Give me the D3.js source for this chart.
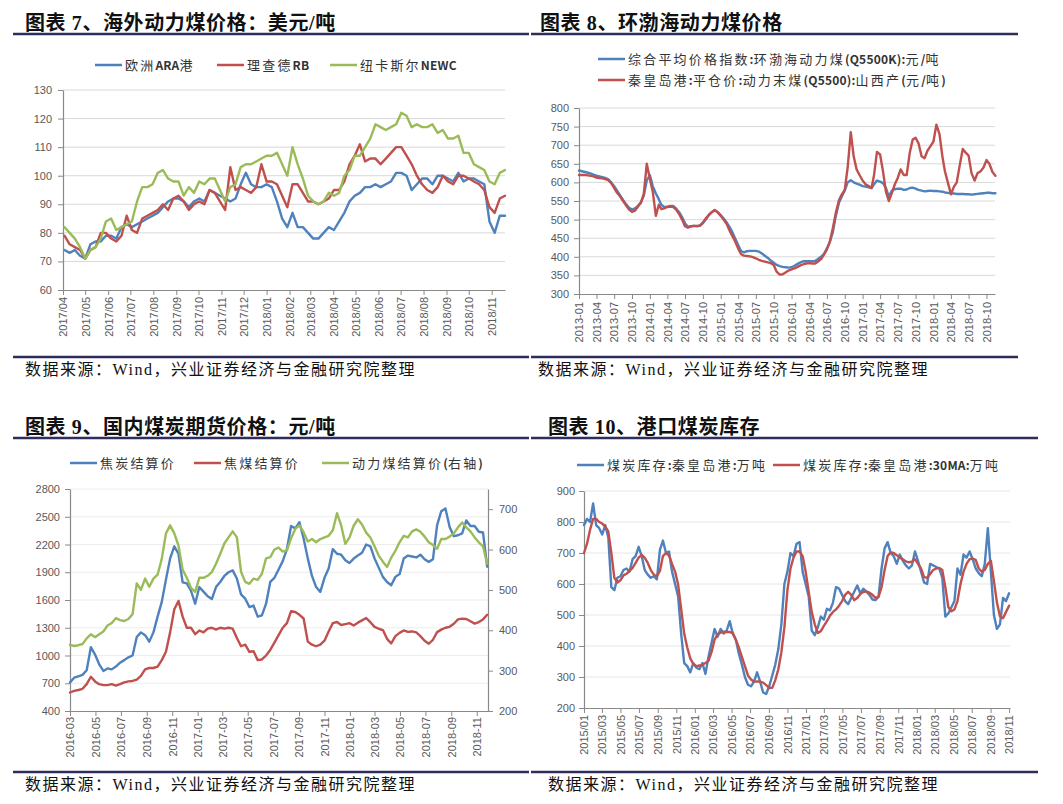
<!DOCTYPE html>
<html><head><meta charset="utf-8">
<script src="https://cdn.jsdelivr.net/npm/d3@7"></script>
<style>
body{margin:0;background:#fff;}
svg{display:block;}
</style></head>
<body><svg id="c" width="1063" height="804"></svg>
<script>
// ---------------- DATA ----------------
// Panel 1: 海外动力煤价格 (weekly samples from 2017-04-03)
const p1Start = "2017-04-03", p1StepDays = 7;
const p1Names = ["欧洲ARA港", "理查德RB", "纽卡斯尔NEWC"];
const p1ARA = [74,73,74,72,71,76,77,77,79,79,78,82,83,82,83,84,85,86,87,89,
  91,92,92,91,89,91,92,91,95,94,93,92,91,92,97,101,97,96,96,97,
  96,91,85,82,87,82,82,80,78,78,80,82,81,84,87,91,93,94,96,96,
  97,96,97,98,101,101,100,95,97,99,99,97,100,100,99,98,101,98,99,99,
  98,97,84,80,86,86];
const p1RB = [79,76,75,74,71,74,75,80,80,78,77,79,86,81,80,85,86,87,88,90,
  88,92,93,91,88,90,91,90,95,94,91,88,103,95,96,95,94,96,104,98,
  98,97,93,89,97,97,94,91,91,90,91,92,95,95,98,104,107,111,105,106,
  106,104,106,108,110,110,107,104,100,97,95,94,96,100,98,97,100,100,99,98,
  97,95,89,87,92,93];
const p1NEWC = [82,80,78,75,71,74,75,78,84,85,81,82,83,84,91,96,96,97,101,102,
  99,98,98,93,96,94,98,97,99,99,95,91,96,97,103,104,104,105,106,107,
  107,108,104,100,110,104,99,93,91,90,91,94,93,94,100,102,107,107,110,113,
  118,117,116,117,118,122,121,117,118,117,117,118,115,116,113,113,114,108,108,104,
  103,102,98,97,101,102];
const p1YTicks = [60,70,80,90,100,110,120,130];
const p1XTicks = ["2017/04","2017/05","2017/06","2017/07","2017/08","2017/09","2017/10","2017/11","2017/12",
  "2018/01","2018/02","2018/03","2018/04","2018/05","2018/06","2018/07","2018/08","2018/09","2018/10","2018/11"];

// Panel 2: 环渤海动力煤价格 (1st and 16th of each month, 2013-01 .. 2018-11)
const p2Names = ["综合平均价格指数:环渤海动力煤(Q5500K):元/吨", "秦皇岛港:平仓价:动力末煤(Q5500):山西产(元/吨)"];
const p2Index = [632,630,628,626,624,621,618,616,614,612,
  608,600,590,578,565,553,541,532,527,530,
  537,547,565,605,620,590,570,555,540,534,
  535,537,537,530,520,507,490,481,482,483,
  483,484,490,500,512,520,525,520,512,503,
  492,480,467,450,432,415,412,415,416,416,
  416,414,409,403,397,390,384,378,375,373,
  372,371,372,376,381,385,388,388,388,388,
  389,394,400,408,422,440,467,510,545,562,
  578,600,606,600,597,594,590,589,587,585,
  595,605,602,598,585,562,578,582,583,583,
  580,581,585,586,583,580,578,576,577,578,
  577,577,576,575,573,572,571,570,569,569,
  569,568,568,567,568,569,570,571,572,572,
  571,571];
const p2QHD = [620,620,620,619,618,616,613,612,611,609,
  606,598,585,572,562,550,538,527,521,524,
  535,545,570,650,610,575,510,540,528,530,
  534,535,534,527,515,500,482,478,482,483,
  482,484,492,503,513,520,526,520,510,500,
  488,470,457,442,422,407,403,402,401,399,
  396,392,389,387,385,383,378,360,352,353,
  358,363,366,369,373,377,380,382,383,382,
  382,387,394,406,420,440,478,518,552,568,
  580,640,735,670,635,620,605,595,590,585,
  620,682,675,630,575,550,572,595,612,635,
  620,620,680,715,720,705,670,665,685,697,
  710,755,730,670,630,600,568,588,600,645,
  690,680,672,625,605,625,630,640,660,650,
  628,618];
const p2YTicks = [300,350,400,450,500,550,600,650,700,750,800];
const p2XTicks = ["2013-01","2013-04","2013-07","2013-10","2014-01","2014-04","2014-07","2014-10",
  "2015-01","2015-04","2015-07","2015-10","2016-01","2016-04","2016-07","2016-10",
  "2017-01","2017-04","2017-07","2017-10","2018-01","2018-04","2018-07","2018-10"];

// Panel 3: 国内煤炭期货价格 (every 10 days from 2016-03-01)
const p3Start = "2016-03-01", p3StepDays = 10;
const p3Names = ["焦炭结算价", "焦煤结算价", "动力煤结算价(右轴)"];
const p3Coke = [710,760,775,790,840,1090,1010,905,833,860,
  850,880,922,950,980,1000,1200,1250,1220,1150,
  1250,1420,1580,1820,2050,2180,2100,1790,1780,1700,
  1560,1740,1690,1640,1610,1740,1795,1860,1900,1920,
  1832,1660,1614,1524,1540,1420,1434,1560,1795,1840,
  1930,2020,2150,2400,2374,2440,2265,2050,1860,1740,
  1687,1840,1940,2150,2100,2090,2030,2000,2048,2080,
  2110,2200,2180,2050,1950,1850,1795,1760,1850,1880,
  2048,2080,2070,2060,2090,2040,2012,2040,2410,2560,
  2590,2390,2290,2300,2320,2460,2400,2400,2338,2330,
  1960];
const p3CokingCoal = [600,617,627,640,690,770,720,690,680,680,
  690,675,690,710,720,725,740,780,850,865,
  865,880,950,1040,1250,1500,1590,1420,1300,1300,
  1230,1270,1250,1290,1300,1280,1300,1290,1300,1290,
  1190,1100,1117,1040,1046,950,957,1000,1060,1140,
  1220,1300,1350,1480,1470,1440,1400,1150,1117,1100,
  1117,1160,1260,1350,1362,1330,1340,1350,1325,1355,
  1380,1405,1360,1310,1289,1275,1180,1130,1210,1245,
  1271,1255,1260,1250,1210,1160,1127,1170,1253,1280,
  1300,1310,1343,1390,1398,1395,1370,1345,1362,1390,
  1440];
const p3Thermal = [364,361,363,366,380,390,383,390,397,412,
  418,430,425,423,428,440,516,500,528,508,
  528,538,577,640,660,640,610,550,530,505,
  495,530,530,535,544,565,589,615,630,645,
  630,545,520,515,528,525,540,578,581,600,
  605,595,598,628,651,660,643,620,626,618,
  626,630,634,648,690,660,614,630,659,675,
  662,642,630,608,585,570,557,580,597,618,
  634,630,645,650,644,632,618,611,602,626,
  626,632,640,655,667,655,645,630,618,608,
  565];
const p3YTicks = [400,700,1000,1300,1600,1900,2200,2500,2800];
const p3Y2Ticks = [200,300,400,500,600,700];
const p3XTicks = ["2016-03","2016-05","2016-07","2016-09","2016-11","2017-01","2017-03","2017-05","2017-07",
  "2017-09","2017-11","2018-01","2018-03","2018-05","2018-07","2018-09","2018-11"];

// Panel 4: 港口煤炭库存 (every 10 days from 2015-01-01)
const p4Start = "2015-01-01", p4StepDays = 10;
const p4Names = ["煤炭库存:秦皇岛港:万吨", "煤炭库存:秦皇岛港:30MA:万吨"];
const p4Stock = [790,810,800,860,790,780,760,790,750,590,
  580,620,625,645,650,640,680,690,720,690,
  645,630,620,625,615,710,740,700,705,640,
  600,560,440,345,335,315,345,330,325,345,
  310,365,410,455,430,455,440,450,480,440,
  420,375,340,300,275,270,285,315,285,250,
  245,270,305,340,390,470,600,640,700,690,
  730,735,640,600,560,450,435,460,495,485,
  520,515,540,590,585,565,545,535,555,575,
  595,570,585,575,565,550,548,560,650,715,
  735,700,690,665,695,675,660,650,660,705,
  675,640,605,600,665,660,655,650,620,495,
  505,525,545,650,630,695,685,705,680,650,
  635,625,665,780,640,500,455,470,555,545,
  570];
const p4MA30 = [700,730,775,810,810,800,795,785,770,700,
  620,605,612,628,633,642,652,668,685,694,
  684,668,645,630,625,642,690,700,692,665,
  640,598,520,440,395,360,342,335,337,340,
  345,352,380,420,438,443,446,445,445,442,
  420,395,365,335,305,292,285,286,285,282,
  274,265,265,290,325,380,460,580,650,685,
  705,705,690,640,575,510,470,442,448,465,
  480,498,510,518,530,545,565,575,565,548,
  555,568,574,576,572,565,555,558,590,645,
  690,702,700,693,685,680,673,670,672,680,
  665,650,622,620,632,645,650,652,645,590,
  525,512,518,545,600,640,665,680,682,678,
  650,640,645,665,675,610,540,495,490,510,
  530];
const p4YTicks = [200,300,400,500,600,700,800,900];
const p4XTicks = ["2015/01","2015/03","2015/05","2015/07","2015/09","2015/11","2016/01","2016/03","2016/05",
  "2016/07","2016/09","2016/11","2017/01","2017/03","2017/05","2017/07","2017/09","2017/11",
  "2018/01","2018/03","2018/05","2018/07","2018/09","2018/11"];

const titles = ["图表 7、海外动力煤价格：美元/吨", "图表 8、环渤海动力煤价格", "图表 9、国内煤炭期货价格：元/吨", "图表 10、港口煤炭库存"];
const sourceText = "数据来源：Wind，兴业证券经济与金融研究院整理";

// ---------------- HELPERS ----------------
const BLUE = "#4F81BD", RED = "#C0504D", GREEN = "#9BBB59", NAVY = "#2E2D5C";
const AXIS = "#898989", LABEL = "#595959";
const parseD = d3.timeParse("%Y-%m-%d");
const svg = d3.select("#c");

function stepDates(start, step, n) {
  const s = parseD(start);
  return d3.range(n).map(i => d3.timeDay.offset(s, i * step));
}
function semiMonthDates(startYear, startMonth, n) {
  const out = [];
  let y = startYear, m = startMonth;
  while (out.length < n) {
    out.push(new Date(y, m - 1, 1));
    if (out.length < n) out.push(new Date(y, m - 1, 16));
    m++; if (m > 12) { m = 1; y++; }
  }
  return out;
}
function tickDate(lbl) {
  const p = lbl.split(/[\/-]/);
  return new Date(+p[0], +p[1] - 1, 1);
}
function zip(dates, vals) { return vals.map((v, i) => ({ d: dates[i], v })); }

function frame(o) {
  svg.append("text").attr("x", o.titleX).attr("y", o.titleY)
    .attr("font-family", "'Liberation Serif','Noto Sans CJK SC'")
    .attr("font-weight", "bold").attr("font-size", 20).attr("letter-spacing", 0.6).attr("fill", "#111")
    .text(o.title);
  svg.append("line").attr("x1", o.lineX0).attr("x2", o.lineX1)
    .attr("y1", o.titleLineY).attr("y2", o.titleLineY)
    .attr("stroke", NAVY).attr("stroke-width", 2.5);
  svg.append("line").attr("x1", o.lineX0).attr("x2", o.lineX1)
    .attr("y1", o.srcLineY).attr("y2", o.srcLineY)
    .attr("stroke", NAVY).attr("stroke-width", 2.5);
  svg.append("text").attr("x", o.srcX).attr("y", o.srcY)
    .attr("font-family", "'Liberation Serif','Noto Sans CJK SC'")
    .attr("font-size", 16).attr("letter-spacing", 1.5).attr("fill", "#111")
    .text(sourceText);
}

const CJK = /[\u3000-\u303f\u4e00-\u9fff\uff00-\uffef]/;
function legend(items) {
  items.forEach(it => {
    svg.append("line").attr("x1", it.x).attr("x2", it.x + 27).attr("y1", it.y).attr("y2", it.y)
      .attr("stroke", it.color).attr("stroke-width", 2.5);
    const t = svg.append("text").attr("x", it.x + 30).attr("y", it.y).attr("dy", "0.36em")
      .attr("font-family", "'Noto Sans CJK SC'").attr("font-size", 13).attr("fill", "#333");
    // split into CJK / Latin runs
    const runs = [];
    for (const ch of it.label) {
      const c = CJK.test(ch);
      if (runs.length && runs[runs.length - 1].c === c) runs[runs.length - 1].s += ch;
      else runs.push({ c, s: ch });
    }
    runs.forEach(r => {
      t.append("tspan").attr("letter-spacing", r.c ? 2.2 : 0.2)
        .attr("font-weight", r.c ? "normal" : "bold")
        .attr("font-size", r.c ? 13 : 12)
        .text(r.s);
    });
  });
}

function styleAxis(g) {
  g.select(".domain").attr("stroke", AXIS).attr("stroke-width", 1.2);
  g.selectAll(".tick line").attr("stroke", AXIS).attr("stroke-width", 1);
  g.selectAll(".tick text").attr("fill", LABEL).attr("font-size", 11)
    .attr("font-family", "'Liberation Sans',Arial,sans-serif");
}

function panel(o) {
  const x = d3.scaleTime().domain(o.xDomain).range([o.x0, o.x1]);
  const y = d3.scaleLinear().domain([o.yTicks[0], o.yTicks[o.yTicks.length - 1]]).range([o.yB, o.yT]);
  const g = svg.append("g");
  g.selectAll(".grid").data(o.yTicks.slice(1)).join("line")
    .attr("x1", o.x0).attr("x2", o.x1).attr("y1", d => y(d)).attr("y2", d => y(d))
    .attr("stroke", o.gridColor).attr("stroke-width", 1);
  const tDates = o.xTicks.map(tickDate);
  const xa = g.append("g").attr("transform", `translate(0,${o.yB})`)
    .call(d3.axisBottom(x).tickValues(tDates).tickSize(5).tickSizeOuter(0)
      .tickFormat((d, i) => o.xTicks[i]));
  styleAxis(xa);
  xa.selectAll(".tick text").attr("transform", "rotate(-90)").attr("text-anchor", "end")
    .attr("x", -o.xLabelGap).attr("y", 0).attr("dy", "0.35em");
  const ya = g.append("g").attr("transform", `translate(${o.x0},0)`)
    .call(d3.axisLeft(y).tickValues(o.yTicks).tickSize(5).tickPadding(o.yPad).tickSizeOuter(0)
      .tickFormat(d3.format("d")));
  styleAxis(ya);
  let y2 = null;
  if (o.y2Ticks) {
    y2 = d3.scaleLinear().domain(o.y2Domain).range([o.yB, o.yT]);
    const ya2 = g.append("g").attr("transform", `translate(${o.x1},0)`)
      .call(d3.axisRight(y2).tickValues(o.y2Ticks).tickSize(5).tickPadding(6).tickSizeOuter(0)
        .tickFormat(d3.format("d")));
    styleAxis(ya2);
  }
  o.series.forEach(s => {
    const sc = s.right ? y2 : y;
    const line = d3.line().x(d => x(d.d)).y(d => sc(d.v));
    g.append("path").datum(s.data).attr("d", line).attr("fill", "none")
      .attr("stroke", s.color).attr("stroke-width", 2.4)
      .attr("stroke-linejoin", "round").attr("stroke-linecap", "round");
  });
}

// ---------------- PANEL 1 ----------------
frame({ title: titles[0], titleX: 25, titleY: 30, lineX0: 13, lineX1: 529, titleLineY: 34,
  srcLineY: 357, srcX: 25, srcY: 375 });
const d1 = stepDates(p1Start, p1StepDays, p1ARA.length);
panel({ xDomain: [parseD("2017-04-01"), parseD("2018-11-19")], x0: 63, x1: 505, yT: 90, yB: 290,
  yTicks: p1YTicks, xTicks: p1XTicks, gridColor: "#d9d9d9", xLabelGap: 7, yPad: 6,
  series: [{ data: zip(d1, p1ARA), color: BLUE }, { data: zip(d1, p1RB), color: RED }, { data: zip(d1, p1NEWC), color: GREEN }] });
legend([{ x: 95, y: 65, color: BLUE, label: p1Names[0] }, { x: 217, y: 65, color: RED, label: p1Names[1] },
  { x: 330, y: 65, color: GREEN, label: p1Names[2] }]);

// ---------------- PANEL 2 ----------------
frame({ title: titles[1], titleX: 540, titleY: 30, lineX0: 531, lineX1: 1018, titleLineY: 34,
  srcLineY: 357, srcX: 538, srcY: 375 });
const d2 = semiMonthDates(2013, 1, p2Index.length);
panel({ xDomain: [parseD("2013-01-01"), parseD("2018-11-14")], x0: 579, x1: 995, yT: 108, yB: 294,
  yTicks: p2YTicks, xTicks: p2XTicks, gridColor: "#d9d9d9", xLabelGap: 8, yPad: 5,
  series: [{ data: zip(d2, p2Index), color: BLUE }, { data: zip(d2, p2QHD), color: RED }] });
legend([{ x: 598, y: 59, color: BLUE, label: p2Names[0] }, { x: 598, y: 80, color: RED, label: p2Names[1] }]);

// ---------------- PANEL 3 ----------------
frame({ title: titles[2], titleX: 25, titleY: 434, lineX0: 13, lineX1: 529, titleLineY: 438,
  srcLineY: 772, srcX: 25, srcY: 790 });
const d3d = stepDates(p3Start, p3StepDays, p3Coke.length);
panel({ xDomain: [parseD("2016-03-01"), parseD("2018-11-28")], x0: 70, x1: 488, yT: 489, yB: 711,
  yTicks: p3YTicks, y2Ticks: p3Y2Ticks, y2Domain: [200, 750], xTicks: p3XTicks, gridColor: "#ececec",
  xLabelGap: 6, yPad: 5,
  series: [{ data: zip(d3d, p3Coke), color: BLUE }, { data: zip(d3d, p3CokingCoal), color: RED },
    { data: zip(d3d, p3Thermal), color: GREEN, right: true }] });
legend([{ x: 70, y: 463, color: BLUE, label: p3Names[0] }, { x: 194, y: 463, color: RED, label: p3Names[1] },
  { x: 322, y: 463, color: GREEN, label: p3Names[2] }]);

// ---------------- PANEL 4 ----------------
frame({ title: titles[3], titleX: 548, titleY: 434, lineX0: 531, lineX1: 1038, titleLineY: 438,
  srcLineY: 772, srcX: 548, srcY: 790 });
const d4 = stepDates(p4Start, p4StepDays, p4Stock.length);
panel({ xDomain: [parseD("2015-01-01"), parseD("2018-11-04")], x0: 584, x1: 1010, yT: 491, yB: 708,
  yTicks: p4YTicks, xTicks: p4XTicks, gridColor: "#e6e6e6", xLabelGap: 7, yPad: 4,
  series: [{ data: zip(d4, p4Stock), color: BLUE }, { data: zip(d4, p4MA30), color: RED }] });
legend([{ x: 577, y: 465, color: BLUE, label: p4Names[0] }, { x: 773, y: 465, color: RED, label: p4Names[1] }]);
</script></body></html>
